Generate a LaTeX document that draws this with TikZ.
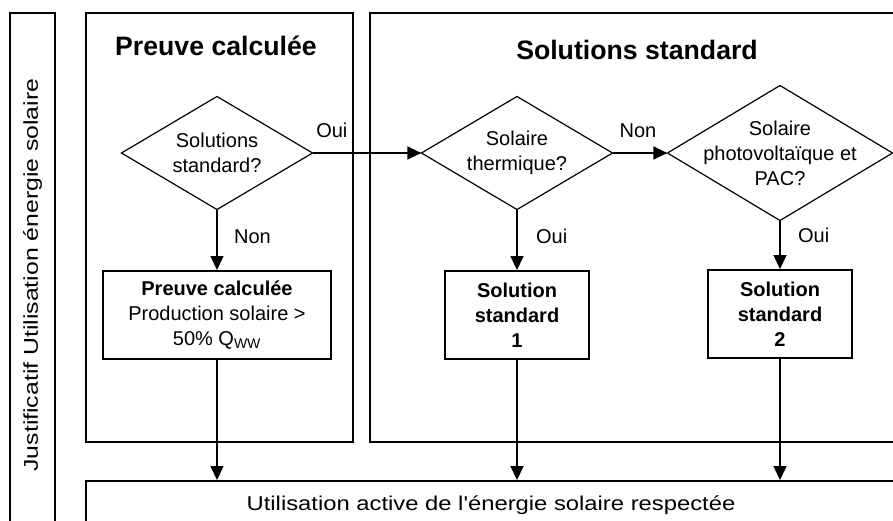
\documentclass[tikz,border=0pt]{standalone}
\usepackage{fontspec}
\setmainfont{Liberation Sans}
\usepackage{graphicx}
\usetikzlibrary{arrows.meta}
\usetikzlibrary{positioning}

\begin{document}
\begin{tikzpicture}[x=0.75pt,y=-0.75pt,node distance=225pt,thick,>={Triangle[length=10.5pt,width=9.5pt]},
    every node/.style={font=\fontsize{15}{18.75}\selectfont},
    cadre/.style={line width=1.3pt},
    titre/.style={font=\fontsize{20}{24}\selectfont\bfseries},
    gras/.style={font=\fontsize{15}{18.75}\selectfont\bfseries},
    decision/.style 2 args={minimum width=#1,minimum height=#2,inner sep=0pt,align=center,
      append after command={\pgfextra{\draw[line width=0.9pt] (\tikzlastnode.north) -- (\tikzlastnode.east)
        -- (\tikzlastnode.south) -- (\tikzlastnode.west) -- cycle;}}},
    bloc/.style={draw,cadre,minimum width=#1,minimum height=66pt,inner sep=0pt,align=center},
    fleche/.style={->,line width=1.6pt},
    lbl/.style={inner sep=0pt}]
      \useasboundingbox (0,0) rectangle (893,521);
      % cadres
      \node[draw,cadre,rotate=90,minimum width=393pt,minimum height=33.75pt,inner sep=0pt] (JU) at (32.5,275)
        {\scalebox{1.24}[1]{Justificatif Utilisation énergie solaire}};
      \draw[cadre] (86,13) rectangle (353,442);
      \draw[cadre] (370,13) rectangle (905,442);
      \node[titre] (T1) at (216,46) {Preuve calculée};
      \node[titre] (T2) at (637,50) {Solutions standard};
      % decisions
      \node[decision={142.5pt}{84pt}] (SS) at (217,153) {Solutions\\standard?};
      \node[decision={142.5pt}{84pt}] (ST) [right of=SS] {Solaire\\thermique?};
      \node[decision={168pt}{100.5pt}] (PV) [right of=ST,node distance=197.25pt] {Solaire\\photovoltaïque et\\PAC?};
      % blocs
      \node[bloc=171pt] (PC) [below of=SS,node distance=121.5pt]
        {\textbf{Preuve calculée}\\Production solaire >\\50\% Q\textsubscript{WW}};
      \node[bloc=108pt,gras] (S1) [below of=ST,node distance=121.5pt] {Solution\\standard\\1};
      \node[bloc=108pt,gras] (S2) [below of=PV,node distance=120.75pt] {Solution\\standard\\2};
      \node[draw,cadre,minimum width=607.5pt,minimum height=36pt] (UA) at (491,505)
        {\scalebox{1.19}[1]{Utilisation active de l\textquotesingle énergie solaire respectée}};
      % fleches
      \draw[fleche] (SS.east) -- (ST.west) node[lbl,at start,above right=11pt and 2pt] {Oui};
      \draw[fleche] (ST.east) -- (PV.west) node[lbl,at start,above right=11pt and 4.5pt] {Non};
      \draw[fleche] (SS.south) -- (PC.north) node[lbl,pos=0.45,right=12pt] {Non};
      \draw[fleche] (ST.south) -- (S1.north) node[lbl,pos=0.45,right=13.5pt] {Oui};
      \draw[fleche] (PV.south) -- (S2.north) node[lbl,pos=0.3,right=12.75pt] {Oui};
      \draw[fleche] (PC.south) -- (PC.south |- UA.north);
      \draw[fleche] (S1.south) -- (S1.south |- UA.north);
      \draw[fleche] (S2.south) -- (S2.south |- UA.north);
    \end{tikzpicture}
\end{document}
